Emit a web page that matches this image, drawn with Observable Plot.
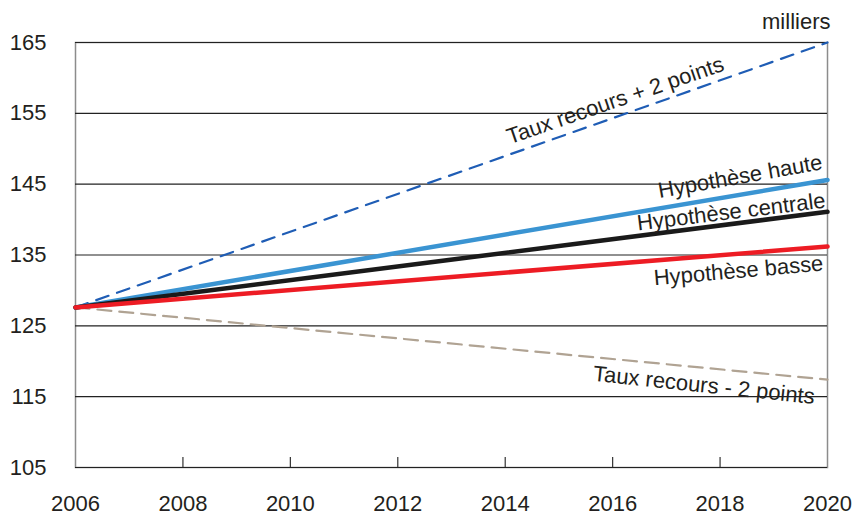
<!DOCTYPE html>
<html><head><meta charset="utf-8">
<script src="https://cdn.jsdelivr.net/npm/d3@7"></script>
<script src="https://cdn.jsdelivr.net/npm/@observablehq/plot@0.6"></script>
<style>body{margin:0;background:#fff}</style>
</head><body><div id="chart"></div>
<script>
// ---- data ----
const years = [2006, 2020];
const tauxPlus2 = [127.6, 165.0];
const haute = [127.6, 145.6];
const centrale = [127.6, 141.1];
const basse = [127.6, 136.2];
const tauxMoins2 = [127.6, 117.4];

const xTicks = [2006, 2008, 2010, 2012, 2014, 2016, 2018, 2020];
const yTicks = [105, 115, 125, 135, 145, 155, 165];
const unitLabel = "milliers";

const labelTexts = ["Taux recours + 2 points", "Hypothèse haute", "Hypothèse centrale", "Hypothèse basse", "Taux recours - 2 points"];
const labelYears = [2016.05, 2019.9, 2019.96, 2019.92, 2017.7];
const labelValues = [156.8, 148.1, 142.7, 133.8, 116.6];

const toRows = (vals) => years.map((y, i) => ({year: y, value: vals[i]}));

const font = "Liberation Sans, Arial, sans-serif";
const textColor = "#231f20";

const labelMark = (i, rotate, anchor) => Plot.text([i], {
  x: d => labelYears[d], y: d => labelValues[d], text: d => labelTexts[d],
  rotate, textAnchor: anchor, fontSize: 22, fill: textColor, lineAnchor: "middle"
});

const chart = Plot.plot({
  width: 856, height: 517,
  marginLeft: 75, marginRight: 29, marginTop: 42, marginBottom: 50,
  style: {fontFamily: font, fontSize: "22px", color: textColor, background: "#fff"},
  x: {domain: [2006, 2020], label: null},
  y: {domain: [105, 165], label: null},
  marks: [
    Plot.frame({stroke: "#8c8c8c", strokeWidth: 1.5}),
    Plot.ruleY(yTicks, {stroke: "#222", strokeWidth: 1.2}),
    Plot.ruleX(xTicks.slice(1, -1), {x: d => d, stroke: "#333", strokeWidth: 1.2, insetTop: 415}),
    Plot.axisY({ticks: yTicks, tickSize: 0, tickPadding: 29, fontSize: 22, fill: textColor, label: null}),
    Plot.axisX({ticks: xTicks, tickSize: 0, tickPadding: 28, fontSize: 22, fill: textColor, label: null, tickFormat: d => String(d)}),
    Plot.line(toRows(tauxMoins2), {x: "year", y: "value", stroke: "#b0a393", strokeWidth: 2.2, strokeDasharray: "14,8"}),
    Plot.line(toRows(tauxPlus2), {x: "year", y: "value", stroke: "#1f5db5", strokeWidth: 2.2, strokeDasharray: "13,9"}),
    Plot.line(toRows(haute), {x: "year", y: "value", stroke: "#3a94d2", strokeWidth: 4.5}),
    Plot.line(toRows(centrale), {x: "year", y: "value", stroke: "#1a1a1a", strokeWidth: 4.5}),
    Plot.line(toRows(basse), {x: "year", y: "value", stroke: "#ed1c24", strokeWidth: 4.5}),
    labelMark(0, -19, "middle"),
    labelMark(1, -10, "end"),
    labelMark(2, -7, "end"),
    labelMark(3, -5, "end"),
    labelMark(4, 6, "middle"),
    Plot.text([unitLabel], {frameAnchor: "top-right", text: d => d, textAnchor: "end", dx: 3, dy: -29, fontSize: 22, fill: textColor})
  ]
});
document.getElementById("chart").appendChild(chart);
</script></body></html>
